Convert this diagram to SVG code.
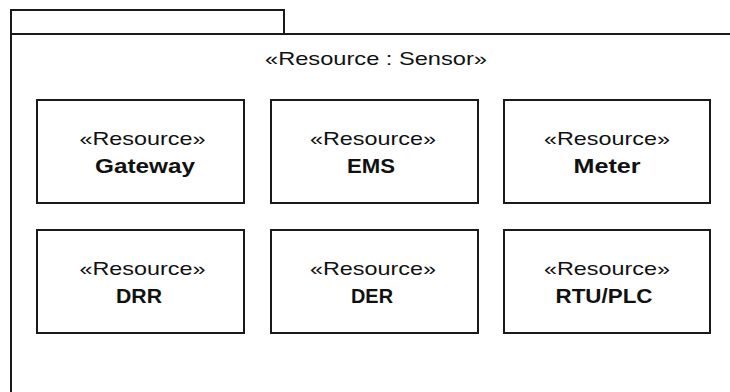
<svg xmlns="http://www.w3.org/2000/svg" width="730" height="392" viewBox="0 0 730 392">
<style>
.frame{fill:none;stroke:#1a1a1a;stroke-width:2}
.box{fill:#fff;stroke:#1a1a1a;stroke-width:2}
.st{font-family:"Liberation Sans",Arial,sans-serif;font-size:19px;fill:#111;text-anchor:middle}
.nm{font-family:"Liberation Sans",Arial,sans-serif;font-size:21px;font-weight:bold;fill:#111;text-anchor:middle}
</style>
<rect x="0" y="0" width="730" height="392" fill="#fff"/>
<g id="package">
<rect class="frame" x="11" y="10" width="273" height="24"/>
<path class="frame" d="M11,392 V34 H731"/>
<text class="st" x="376" y="65" textLength="222" lengthAdjust="spacingAndGlyphs">«Resource : Sensor»</text>
</g>
<g id="gateway">
<rect class="box" x="37" y="100" width="207" height="103"/>
<text class="st" x="142.5" y="145" textLength="126" lengthAdjust="spacingAndGlyphs">«Resource»</text>
<text class="nm" x="145" y="173" textLength="100" lengthAdjust="spacingAndGlyphs">Gateway</text>
</g>
<g id="ems">
<rect class="box" x="271" y="100" width="207" height="103"/>
<text class="st" x="373" y="145" textLength="126" lengthAdjust="spacingAndGlyphs">«Resource»</text>
<text class="nm" x="371" y="173" textLength="48" lengthAdjust="spacingAndGlyphs">EMS</text>
</g>
<g id="meter">
<rect class="box" x="504" y="100" width="206" height="103"/>
<text class="st" x="607" y="145" textLength="126" lengthAdjust="spacingAndGlyphs">«Resource»</text>
<text class="nm" x="607" y="173" textLength="67" lengthAdjust="spacingAndGlyphs">Meter</text>
</g>
<g id="drr">
<rect class="box" x="37" y="230" width="207" height="103"/>
<text class="st" x="142.5" y="275" textLength="126" lengthAdjust="spacingAndGlyphs">«Resource»</text>
<text class="nm" x="139" y="303" textLength="46" lengthAdjust="spacingAndGlyphs">DRR</text>
</g>
<g id="der">
<rect class="box" x="271" y="230" width="207" height="103"/>
<text class="st" x="373" y="275" textLength="126" lengthAdjust="spacingAndGlyphs">«Resource»</text>
<text class="nm" x="372" y="303" textLength="42" lengthAdjust="spacingAndGlyphs">DER</text>
</g>
<g id="rtuplc">
<rect class="box" x="504" y="230" width="206" height="103"/>
<text class="st" x="607" y="275" textLength="126" lengthAdjust="spacingAndGlyphs">«Resource»</text>
<text class="nm" x="604" y="303" textLength="97" lengthAdjust="spacingAndGlyphs">RTU/PLC</text>
</g>
<g id="connectors"></g>
</svg>
